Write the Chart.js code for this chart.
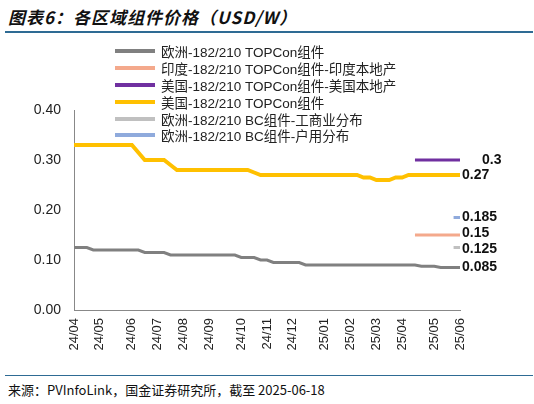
<!DOCTYPE html>
<html><head><meta charset="utf-8">
<script src="https://cdn.jsdelivr.net/npm/chart.js@4"></script>
<style>
body{margin:0;width:534px;height:404px;background:#fff;position:relative;overflow:hidden;font-family:"Liberation Sans",Arial,sans-serif}
#title{position:absolute;left:8px;top:4px;font:italic bold 17px "Noto Sans CJK SC";color:#111;letter-spacing:1px}
#tl{position:absolute;left:5px;top:31px;width:528px;height:2px;background:#2e6b94}
#bl{position:absolute;left:5px;top:375px;width:528px;height:1px;background:#2e6b94}
#src{position:absolute;left:8px;top:380px;font:13px "Noto Sans CJK SC";color:#111}
#legend{position:absolute;left:115px;top:43px;font:13.5px "Liberation Sans",Arial,"Noto Sans CJK SC";color:#222;z-index:2}
.r{height:16.8px;display:flex;align-items:center;white-space:nowrap}
.r i{display:inline-block;width:40px;height:4px;margin-right:6px}
</style></head><body>
<div id="title">图表6：各区域组件价格（USD/W）</div>
<div id="tl"></div>
<div id="legend"></div>
<div style="position:absolute;left:0;top:35px;width:534px;height:330px"><canvas id="c"></canvas></div>
<div id="bl"></div>
<div id="src">来源：PVInfoLink，国金证券研究所，截至 2025-06-18</div>
<script>
const monthLabels=["24/04","24/05","24/06","24/07","24/08","24/09","24/10","24/11","24/12","25/01","25/02","25/03","25/04","25/05","25/06"];
const N=61;
const weeks=Array.from({length:N},(_,i)=>i);
const names=["欧洲-182/210 TOPCon组件","印度-182/210 TOPCon组件-印度本地产","美国-182/210 TOPCon组件-美国本地产","美国-182/210 TOPCon组件","欧洲-182/210 BC组件-工商业分布","欧洲-182/210 BC组件-户用分布"];
const colors=["#808080","#f4a98c","#7030a0","#ffc000","#c0c0c0","#8faadc"];
const widths=[3,3,3,4,3,3];
const euTop=[.125,.125,.125,.12,.12,.12,.12,.12,.12,.12,.12,.115,.115,.115,.115,.11,.11,.11,.11,.11,.11,.11,.11,.11,.11,.11,.105,.105,.105,.1,.1,.095,.095,.095,.095,.095,.09,.09,.09,.09,.09,.09,.09,.09,.09,.09,.09,.09,.09,.09,.09,.09,.09,.09,.0875,.0875,.0875,.085,.085,.085,.085];
const inTop=Array(53).fill(null).concat([.15,.15,.15,.15,.15,.15,.15,.15]);
const usLocal=Array(53).fill(null).concat([.3,.3,.3,.3,.3,.3,.3,.3]);
const usTop=[.33,.33,.33,.33,.33,.33,.33,.33,.33,.33,.315,.3,.3,.3,.3,.29,.28,.28,.28,.28,.28,.28,.28,.28,.28,.28,.28,.28,.275,.27,.27,.27,.27,.27,.27,.27,.27,.27,.27,.27,.27,.27,.27,.27,.27,.265,.265,.26,.26,.26,.265,.265,.27,.27,.27,.27,.27,.27,.27,.27,.27];
const bcCI=Array(59).fill(null).concat([.125,.125]);
const bcRes=Array(59).fill(null).concat([.185,.185]);
const endLabels=["0.085","0.15","0.3","0.27","0.125","0.185"];
const series=[euTop,inTop,usLocal,usTop,bcCI,bcRes];
const yTicks=[0,0.1,0.2,0.3,0.4];
const tickIdx=monthLabels.map((_,k)=>Math.round(k*(N-1)/14));

document.getElementById('legend').innerHTML=names.map((n,i)=>`<div class="r"><i style="background:${colors[i]}"></i>${n}</div>`).join('');

const endPlugin={id:'end',afterDatasetsDraw(ch){const c=ch.ctx;c.save();c.font='bold 14px "Liberation Sans",Arial';c.fillStyle='#111';c.textBaseline='middle';
ch.data.datasets.forEach((d,i)=>{const m=ch.getDatasetMeta(i);const p=m.data[N-1];let y=p.y;if(i==1)y-=2;if(i==4)y+=2;c.fillText(endLabels[i],p.x+(i==2?22:2),y);});c.restore();}};

new Chart(document.getElementById('c'),{type:'line',
data:{labels:weeks,datasets:series.map((s,i)=>({data:s,borderColor:colors[i],borderWidth:widths[i],pointRadius:0,tension:0,fill:false,spanGaps:false}))},
options:{responsive:true,maintainAspectRatio:false,animation:false,
layout:{padding:{left:0,right:74,top:75,bottom:0}},
plugins:{legend:{display:false},tooltip:{enabled:false}},
scales:{
x:{type:'linear',min:0,max:N-1,afterFit(s){s.height=55;},
 afterBuildTicks(s){s.ticks=tickIdx.map(v=>({value:v}));},
 grid:{display:false,drawTicks:true,tickLength:5,color:'#888'},border:{color:'#888'},
 ticks:{autoSkip:false,maxRotation:90,minRotation:90,color:'#222',font:{size:13},callback:(v)=>{const k=tickIdx.indexOf(v);return k>=0?monthLabels[k]:'';}}},
y:{min:0,max:0.4,afterFit(s){s.width=74;},afterBuildTicks(s){s.ticks=yTicks.map(v=>({value:v}));},
 grid:{display:false,drawTicks:true,tickLength:5,color:'#888'},border:{color:'#888'},
 ticks:{color:'#222',font:{size:14},padding:8,callback:v=>v.toFixed(2)}}}},
plugins:[endPlugin]});
</script></body></html>
